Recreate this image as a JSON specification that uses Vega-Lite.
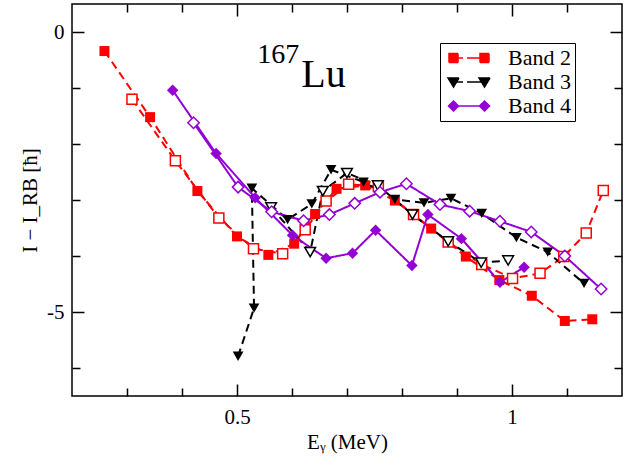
{
  "$schema": "https://vega.github.io/schema/vega-lite/v6.json",
  "width": 550,
  "height": 392,
  "autosize": {"type": "none"},
  "padding": {"left": 72, "top": 4, "right": 21, "bottom": 62},
  "background": "white",
  "config": {
    "view": {"stroke": "black", "strokeWidth": 1.5},
    "font": "'Liberation Serif', 'Times New Roman', 'DejaVu Serif', serif",
    "text": {"font": "'Liberation Serif', 'Times New Roman', 'DejaVu Serif', serif"},
    "axis": {
      "labelFont": "'Liberation Serif', 'Times New Roman', 'DejaVu Serif', serif",
      "titleFont": "'Liberation Serif', 'Times New Roman', 'DejaVu Serif', serif",
      "labelColor": "black", "titleColor": "black", "tickColor": "black",
      "tickWidth": 1.5, "labelFontSize": 21, "titleFontSize": 21,
      "titleFontWeight": "normal", "grid": false, "domain": false
    }
  },
  "data": {"values": [
    {"band":"Band 2","sig":"f","o":0,"x":0.259,"y":-0.34},
    {"band":"Band 2","sig":"f","o":1,"x":0.342,"y":-1.52},
    {"band":"Band 2","sig":"f","o":2,"x":0.428,"y":-2.84},
    {"band":"Band 2","sig":"f","o":3,"x":0.500,"y":-3.65},
    {"band":"Band 2","sig":"f","o":4,"x":0.557,"y":-3.98},
    {"band":"Band 2","sig":"f","o":5,"x":0.604,"y":-3.78},
    {"band":"Band 2","sig":"f","o":6,"x":0.642,"y":-3.25},
    {"band":"Band 2","sig":"f","o":7,"x":0.681,"y":-2.80},
    {"band":"Band 2","sig":"f","o":8,"x":0.733,"y":-2.74},
    {"band":"Band 2","sig":"f","o":9,"x":0.787,"y":-3.01},
    {"band":"Band 2","sig":"f","o":10,"x":0.853,"y":-3.51},
    {"band":"Band 2","sig":"f","o":11,"x":0.916,"y":-4.01},
    {"band":"Band 2","sig":"f","o":12,"x":0.977,"y":-4.43},
    {"band":"Band 2","sig":"f","o":13,"x":1.036,"y":-4.71},
    {"band":"Band 2","sig":"f","o":14,"x":1.096,"y":-5.16},
    {"band":"Band 2","sig":"f","o":15,"x":1.146,"y":-5.13},
    {"band":"Band 2","sig":"o","o":0,"x":0.309,"y":-1.20},
    {"band":"Band 2","sig":"o","o":1,"x":0.388,"y":-2.30},
    {"band":"Band 2","sig":"o","o":2,"x":0.467,"y":-3.32},
    {"band":"Band 2","sig":"o","o":3,"x":0.530,"y":-3.87},
    {"band":"Band 2","sig":"o","o":4,"x":0.583,"y":-3.96},
    {"band":"Band 2","sig":"o","o":5,"x":0.624,"y":-3.53},
    {"band":"Band 2","sig":"o","o":6,"x":0.662,"y":-3.02},
    {"band":"Band 2","sig":"o","o":7,"x":0.703,"y":-2.72},
    {"band":"Band 2","sig":"o","o":8,"x":0.757,"y":-2.76},
    {"band":"Band 2","sig":"o","o":9,"x":0.821,"y":-3.26},
    {"band":"Band 2","sig":"o","o":10,"x":0.884,"y":-3.75},
    {"band":"Band 2","sig":"o","o":11,"x":0.945,"y":-4.15},
    {"band":"Band 2","sig":"o","o":12,"x":1.001,"y":-4.40},
    {"band":"Band 2","sig":"o","o":13,"x":1.051,"y":-4.31},
    {"band":"Band 2","sig":"o","o":14,"x":1.094,"y":-4.01},
    {"band":"Band 2","sig":"o","o":15,"x":1.135,"y":-3.59},
    {"band":"Band 2","sig":"o","o":16,"x":1.166,"y":-2.83},
    {"band":"Band 3","sig":"f","o":0,"x":0.502,"y":-5.79},
    {"band":"Band 3","sig":"f","o":1,"x":0.531,"y":-4.93},
    {"band":"Band 3","sig":"f","o":2,"x":0.527,"y":-2.79},
    {"band":"Band 3","sig":"f","o":3,"x":0.592,"y":-3.35},
    {"band":"Band 3","sig":"f","o":4,"x":0.636,"y":-3.07},
    {"band":"Band 3","sig":"f","o":5,"x":0.671,"y":-2.46},
    {"band":"Band 3","sig":"f","o":6,"x":0.730,"y":-2.68},
    {"band":"Band 3","sig":"f","o":7,"x":0.787,"y":-2.99},
    {"band":"Band 3","sig":"f","o":8,"x":0.840,"y":-3.05},
    {"band":"Band 3","sig":"f","o":9,"x":0.889,"y":-2.97},
    {"band":"Band 3","sig":"f","o":10,"x":0.945,"y":-3.24},
    {"band":"Band 3","sig":"f","o":11,"x":1.008,"y":-3.67},
    {"band":"Band 3","sig":"f","o":12,"x":1.065,"y":-3.93},
    {"band":"Band 3","sig":"f","o":13,"x":1.131,"y":-4.49},
    {"band":"Band 3","sig":"o","o":0,"x":0.562,"y":-3.13},
    {"band":"Band 3","sig":"o","o":1,"x":0.633,"y":-3.93},
    {"band":"Band 3","sig":"o","o":2,"x":0.656,"y":-2.84},
    {"band":"Band 3","sig":"o","o":3,"x":0.700,"y":-2.52},
    {"band":"Band 3","sig":"o","o":4,"x":0.756,"y":-2.74},
    {"band":"Band 3","sig":"o","o":5,"x":0.819,"y":-3.26},
    {"band":"Band 3","sig":"o","o":6,"x":0.884,"y":-3.74},
    {"band":"Band 3","sig":"o","o":7,"x":0.944,"y":-4.12},
    {"band":"Band 3","sig":"o","o":8,"x":0.993,"y":-4.08},
    {"band":"Band 4","sig":"f","o":0,"x":0.383,"y":-1.04},
    {"band":"Band 4","sig":"f","o":1,"x":0.462,"y":-2.17},
    {"band":"Band 4","sig":"f","o":2,"x":0.533,"y":-2.96},
    {"band":"Band 4","sig":"f","o":3,"x":0.601,"y":-3.63},
    {"band":"Band 4","sig":"f","o":4,"x":0.662,"y":-4.04},
    {"band":"Band 4","sig":"f","o":5,"x":0.710,"y":-3.95},
    {"band":"Band 4","sig":"f","o":6,"x":0.752,"y":-3.54},
    {"band":"Band 4","sig":"f","o":7,"x":0.818,"y":-4.17},
    {"band":"Band 4","sig":"f","o":8,"x":0.847,"y":-3.26},
    {"band":"Band 4","sig":"f","o":9,"x":0.908,"y":-3.69},
    {"band":"Band 4","sig":"f","o":10,"x":0.978,"y":-4.47},
    {"band":"Band 4","sig":"f","o":11,"x":1.022,"y":-4.20},
    {"band":"Band 4","sig":"o","o":0,"x":0.421,"y":-1.62},
    {"band":"Band 4","sig":"o","o":1,"x":0.502,"y":-2.77},
    {"band":"Band 4","sig":"o","o":2,"x":0.563,"y":-3.21},
    {"band":"Band 4","sig":"o","o":3,"x":0.621,"y":-3.37},
    {"band":"Band 4","sig":"o","o":4,"x":0.668,"y":-3.26},
    {"band":"Band 4","sig":"o","o":5,"x":0.714,"y":-3.06},
    {"band":"Band 4","sig":"o","o":6,"x":0.760,"y":-2.86},
    {"band":"Band 4","sig":"o","o":7,"x":0.808,"y":-2.71},
    {"band":"Band 4","sig":"o","o":8,"x":0.869,"y":-3.08},
    {"band":"Band 4","sig":"o","o":9,"x":0.923,"y":-3.20},
    {"band":"Band 4","sig":"o","o":10,"x":0.978,"y":-3.38},
    {"band":"Band 4","sig":"o","o":11,"x":1.035,"y":-3.57},
    {"band":"Band 4","sig":"o","o":12,"x":1.096,"y":-4.00},
    {"band":"Band 4","sig":"o","o":13,"x":1.162,"y":-4.59}
  ]},
  "layer": [
    {
      "mark": {"type": "line", "strokeWidth": 2},
      "encoding": {
        "x": {"field": "x", "type": "quantitative",
          "scale": {"domain": [0.2, 1.2], "nice": false, "zero": false},
          "axis": {"orient": "bottom", "title": "Eᵧ (MeV)", "values": [0.5, 1],
            "labelExpr": "datum.value == 1 ? '1' : '0.5'",
            "offset": -12, "tickSize": 12, "labelPadding": 10, "titlePadding": 4}},
        "y": {"field": "y", "type": "quantitative",
          "scale": {"domain": [-6.5, 0.5], "nice": false, "zero": false},
          "axis": {"orient": "left", "title": "I − I_RB [ħ]", "values": [-5, 0],
            "labelExpr": "datum.value == 0 ? '0' : '-5'",
            "offset": -12, "tickSize": 12, "labelPadding": 8, "titlePadding": 6}},
        "color": {"field": "band", "type": "nominal",
          "scale": {"domain": ["Band 2", "Band 3", "Band 4"], "range": ["#ff0000", "#000000", "#9400d3"]},
          "legend": {"orient": "none", "legendX": 368, "legendY": 39, "title": null,
            "strokeColor": "black", "fillColor": "white", "padding": 4, "rowPadding": 2,
            "labelFont": "'Liberation Serif', 'Times New Roman', 'DejaVu Serif', serif", "labelFontSize": 22, "labelColor": "black", "labelLimit": 300,
            "symbolSize": 100, "symbolOffset": 14, "labelOffset": 28, "symbolStrokeWidth": 1.5,
            "encode": {"symbols": {"update": {
              "shape": {"signal": "datum.value == 'Band 2' ? 'M-4,-0.9H-2.2V0.9H-4Z M-2.2,0H-1.2 M-0.4,0H2.2 M2.2,-0.9H4V0.9H2.2Z' : (datum.value == 'Band 3' ? 'M-4.2,-0.8H-2L-3.1,1Z M-2.4,0H-1.2 M-0.4,0H2.4 M2,-0.8H4.2L3.1,1Z' : 'M-4.1,0L-3.1,-1L-2.1,0L-3.1,1Z M-2.1,0H2.1 M2.1,0L3.1,-1L4.1,0L3.1,1Z')"},
              "fill": {"signal": "scale('color', datum.value)"},
              "stroke": {"signal": "scale('color', datum.value)"},
              "size": {"value": 100},
              "strokeDash": {"value": [1, 0]},
              "opacity": {"value": 1}
            }}}}},
        "strokeDash": {"field": "band", "type": "nominal",
          "scale": {"range": [[8, 5], [8, 5], [1, 0]]},
          "legend": null},
        "detail": {"field": "sig"},
        "order": {"field": "o", "type": "quantitative"}
      }
    },
    {
      "transform": [{"filter": "datum.sig == 'f'"}],
      "mark": {"type": "point", "filled": true, "opacity": 1},
      "encoding": {
        "x": {"field": "x", "type": "quantitative",
          "axis": {"orient": "bottom", "title": null, "labels": false,
            "values": [0.3, 0.4, 0.6, 0.7, 0.8, 0.9, 1.1], "offset": -8, "tickSize": 8}},
        "y": {"field": "y", "type": "quantitative",
          "axis": {"orient": "left", "title": null, "labels": false,
            "values": [-6, -4, -3, -2, -1], "offset": -8, "tickSize": 8}},
        "color": {"field": "band", "type": "nominal"},
        "shape": {"field": "band", "type": "nominal",
          "scale": {"range": ["square", "triangle-down", "diamond"]},
          "legend": null},
        "size": {"field": "band", "type": "nominal",
          "scale": {"range": [100, 130, 120]},
          "legend": null}
      }
    },
    {
      "transform": [{"filter": "datum.sig == 'o'"}],
      "mark": {"type": "point", "filled": true, "fill": "white", "strokeWidth": 1.5, "opacity": 1},
      "encoding": {
        "x": {"field": "x", "type": "quantitative",
          "axis": {"orient": "top", "title": null, "labels": false,
            "values": [0.5, 1], "offset": -12, "tickSize": 12}},
        "y": {"field": "y", "type": "quantitative",
          "axis": {"orient": "right", "title": null, "labels": false,
            "values": [-5, 0], "offset": -12, "tickSize": 12}},
        "stroke": {"field": "band", "type": "nominal",
          "scale": {"range": ["#ff0000", "#000000", "#9400d3"]},
          "legend": null},
        "shape": {"field": "band", "type": "nominal", "legend": null},
        "size": {"field": "band", "type": "nominal", "legend": null}
      }
    },
    {
      "data": {"values": [{}]},
      "mark": {"type": "text", "text": "167", "fontSize": 28, "align": "left", "baseline": "alphabetic", "color": "black"},
      "encoding": {
        "x": {"datum": 0.537, "type": "quantitative",
          "axis": {"orient": "top", "title": null, "labels": false,
            "values": [0.3, 0.4, 0.6, 0.7, 0.8, 0.9, 1.1], "offset": -8, "tickSize": 8}},
        "y": {"datum": -0.56, "type": "quantitative",
          "axis": {"orient": "right", "title": null, "labels": false,
            "values": [-6, -4, -3, -2, -1], "offset": -8, "tickSize": 8}}
      }
    },
    {
      "data": {"values": [{}]},
      "mark": {"type": "text", "text": "Lu", "fontSize": 40, "align": "left", "baseline": "alphabetic", "color": "black"},
      "encoding": {
        "x": {"datum": 0.617, "type": "quantitative", "axis": null},
        "y": {"datum": -0.99, "type": "quantitative", "axis": null}
      }
    }
  ],
  "resolve": {"axis": {"x": "independent", "y": "independent"}}
}
